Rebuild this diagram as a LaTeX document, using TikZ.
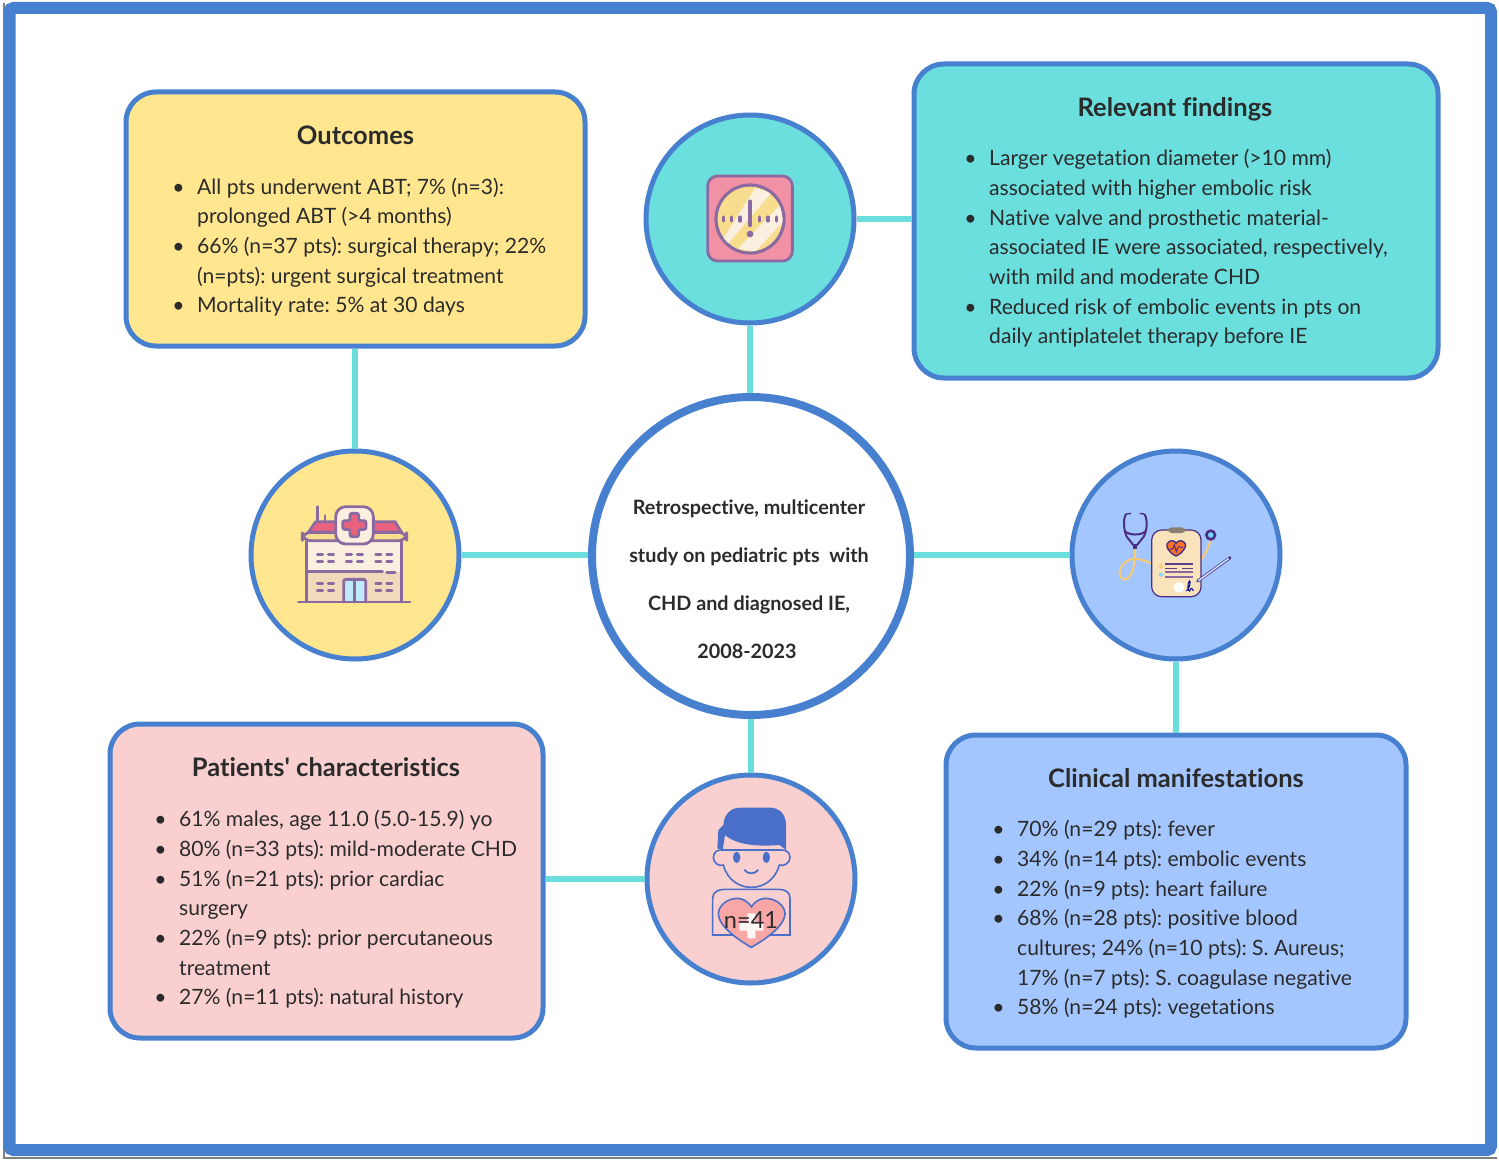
\documentclass[tikz,border=0pt]{standalone}
\usepackage{fontspec}
\setmainfont{Lato}[Ligatures={TeXOff,NoCommon}]
\usepackage{xcolor}
\usetikzlibrary{positioning}

\definecolor{framec}{HTML}{4680CF}
\definecolor{linkc}{HTML}{6ADDDD}
\definecolor{yellowc}{HTML}{FFE68F}
\definecolor{tealc}{HTML}{6BDEDE}
\definecolor{pinkc}{HTML}{F9CFCF}
\definecolor{bluec}{HTML}{A4C6FF}
\definecolor{inkc}{HTML}{2B2B2B}
\definecolor{plumc}{HTML}{8A6AA0}
\definecolor{rosec}{HTML}{E9627F}
\definecolor{creamc}{HTML}{FBF0DF}
\definecolor{sandc}{HTML}{F8DD8E}
\definecolor{tanc}{HTML}{F1D9BC}
\definecolor{boardc}{HTML}{F9E3BC}
\definecolor{heartc}{HTML}{F8A6A6}
\definecolor{boyc}{HTML}{4A6FC9}
\definecolor{darkc}{HTML}{4B2E83}

\tikzset{
    box/.style={draw=framec, line width=2.5pt, rounded corners=15pt},
    hub/.style={circle, draw=framec, line width=2.5pt, minimum size=104pt, inner sep=0pt},
    link/.style={draw=linkc, line width=3pt},
    title/.style={font=\fontsize{12.75}{15}\selectfont\bfseries, text=inkc},
    body/.style={font=\fontsize{10.55}{14.85}\selectfont, text=inkc, anchor=north west, inner sep=0pt},
    mid/.style={font=\fontsize{9.9}{12}\selectfont\bfseries, text=inkc, anchor=base},
    ic/.style={draw=plumc, line width=1.4pt, line cap=round, line join=round}
}
\newcommand{\bul}{\textbullet}
\newcommand{\twoside}[1]{\frenchspacing\begin{tabular}{@{}p{12.4pt}@{}l@{}}#1\end{tabular}}

\begin{document}
\begin{tikzpicture}[x=0.5pt, y=-0.5pt]
    \useasboundingbox (0, 0) rectangle (1499, 1161);
    \draw[draw=gray, line width=1pt] (3.5, 3) -- (3.5, 1157.5) -- (1497, 1157.5);
    \node[draw=framec, line width=6pt, rounded corners=2pt, minimum width=740.75pt, minimum height=571pt, inner sep=0pt] (frame) at (750.25, 579) {};

    % boxes
    \node[box, fill=yellowc, minimum width=229.5pt, minimum height=127pt] (outcomes) at (355.5, 219) {};
    \node[box, fill=tealc, minimum width=262pt, minimum height=157pt] (findings) at (1176, 221) {};
    \node[box, fill=pinkc, minimum width=216.5pt, minimum height=157pt] (patients) at (326.5, 881) {};
    \node[box, fill=bluec, minimum width=230pt, minimum height=156.5pt] (clinical) at (1176, 891.5) {};

    % circles
    \node[hub, fill=tealc] (alert) at (750, 219) {};
    \node[hub, fill=yellowc] (hospital) at (355, 555) {};
    \node[hub, fill=bluec] (record) at (1176, 555) {};
    \node[hub, fill=pinkc] (boy) at (751, 879) {};
    \node[circle, draw=framec, line width=4pt, fill=white, minimum size=159pt, inner sep=0pt] (study) at (751, 556) {};

    \draw[link] (outcomes.south -| hospital) -- (hospital);
    \draw[link] (hospital) -- (hospital -| study.west);
    \draw[link] (findings.west |- alert) -- (alert);
    \draw[link] (alert) -- (alert |- study.north);
    \draw[link] (study.east |- record) -- (record);
    \draw[link] (record) -- (clinical.north -| record);
    \draw[link] (study) -- (boy);
    \draw[link] (patients.east |- boy) -- (boy);

    % titles
    \node[title] (outcomest) at (355.5, 135) {Outcomes};
    \node[title] (findingst) at (1175, 109) {Relevant findings};
    \node[title] (patientst) at (326, 767) {Patients' characteristics};
    \node[title] (clinicalt) at (1176, 778) {Clinical manifestations};

    % lists
    \node[body] (outcomesb) at (172, 173) {\twoside{
        \bul & All pts underwent ABT; 7\% (n=3):\\
        & prolonged ABT (>4 months)\\
        \bul & 66\% (n=37 pts): surgical therapy; 22\%\\
        & (n=pts): urgent surgical treatment\\
        \bul & Mortality rate: 5\% at 30 days}};
    \node[body] (findingsb) at (964, 144.5) {\twoside{
        \bul & Larger vegetation diameter (>10 mm)\\
        & associated with higher embolic risk\\
        \bul & Native valve and prosthetic material-\\
        & associated IE were associated, respectively,\\
        & with mild and moderate CHD\\
        \bul & Reduced risk of embolic events in pts on\\
        & daily antiplatelet therapy before IE}};
    \node[body] (patientsb) at (154, 805.5) {\twoside{
        \bul & 61\% males, age 11.0 (5.0-15.9) yo\\
        \bul & 80\% (n=33 pts): mild-moderate CHD\\
        \bul & 51\% (n=21 pts): prior cardiac\\
        & surgery\\
        \bul & 22\% (n=9 pts): prior percutaneous\\
        & treatment\\
        \bul & 27\% (n=11 pts): natural history}};
    \node[body] (clinicalb) at (992, 815.5) {\twoside{
        \bul & 70\% (n=29 pts): fever\\
        \bul & 34\% (n=14 pts): embolic events\\
        \bul & 22\% (n=9 pts): heart failure\\
        \bul & 68\% (n=28 pts): positive blood\\
        & cultures; 24\% (n=10 pts): S. Aureus;\\
        & 17\% (n=7 pts): S. coagulase negative\\
        \bul & 58\% (n=24 pts): vegetations}};

    % centre text
    \node[mid] (mid1) at (749, 514.5) {Retrospective, multicenter};
    \node[mid] (mid2) at (749, 562.5) {study on pediatric pts\ \ with};
    \node[mid] (mid3) at (749, 610.5) {CHD and diagnosed IE,};
    \node[mid] (mid4) at (747, 658.5) {2008-2023};

    % clock icon
    \begin{scope}[shift={(640, 110)}, x=0.1667pt, y=-0.1667pt]
        \draw[ic, fill=rosec!70!white, rounded corners=5pt] (203, 198) rectangle (457, 453);
        \draw[ic, fill=sandc] (330, 327) circle[radius=102];
        \fill[creamc] (250, 385) -- (345, 235) -- (395, 247) -- (265, 400) -- cycle;
        \fill[creamc] (295, 415) -- (420, 285) -- (430, 335) -- (345, 425) -- cycle;
        \draw[ic, fill=none] (330, 327) circle[radius=102];
        \draw[plumc, line cap=round, line width=2.2pt] (330, 275) -- (330, 345);
        \fill[plumc] (330, 372) circle[radius=10];
        \foreach \x in {250, 275, 300, 358, 384, 410} {
            \draw[plumc, line cap=round, line width=1.6pt] (\x, 321) -- (\x, 333);
        }
    \end{scope}

    % hospital icon
    \begin{scope}[shift={(245, 445)}, x=0.1667pt, y=-0.1667pt]
        \draw[ic] (217, 185) -- (217, 240) (240, 212) -- (240, 240);
        \draw[ic, fill=rosec] (190, 262) -- (212, 230) -- (450, 230) -- (470, 262) -- cycle;
        \fill[creamc] (185, 285) rectangle (470, 380);
        \fill[tanc] (185, 380) rectangle (470, 471);
        \draw[ic] (185, 285) -- (185, 471) (470, 285) -- (470, 471);
        \draw[ic] (185, 380) -- (412, 380) (425, 382) -- (450, 382);
        \draw[ic, fill=sandc, rounded corners=4pt] (172, 262) rectangle (485, 287);
        \draw[ic, fill=creamc, rounded corners=5pt] (272, 185) rectangle (385, 297);
        \draw[ic, fill=rosec, rounded corners=1pt] (315, 205) -- (341, 205) -- (341, 227) -- (363, 227) -- (363, 253) -- (341, 253) -- (341, 275) -- (315, 275) -- (315, 253) -- (293, 253) -- (293, 227) -- (315, 227) -- cycle;
        \foreach \y in {328, 350} {
            \foreach \x in {225, 312, 400} {
                \draw[ic] (\x-8, \y) -- (\x+8, \y) (\x+25, \y) -- (\x+41, \y);
            }
        }
        \foreach \y in {415, 437} {
            \foreach \x in {225, 400} {
                \draw[ic] (\x-8, \y) -- (\x+8, \y) (\x+25, \y) -- (\x+41, \y);
            }
        }
        \draw[ic, fill=cyan!25!white, rounded corners=1pt] (296, 471) -- (296, 403) -- (362, 403) -- (362, 471);
        \draw[ic] (329, 403) -- (329, 471);
        \draw[ic] (160, 471) -- (495, 471);
    \end{scope}

    % record icon
    \begin{scope}[shift={(1065, 445)}, x=0.1667pt, y=-0.1667pt]
        \draw[sandc!80!orange, line width=1pt] (210, 312) .. controls (212, 370) and (195, 405) .. (178, 403) .. controls (150, 398) and (165, 345) .. (205, 342) .. controls (225, 340) and (245, 350) .. (260, 355);
        \draw[sandc!80!orange, line width=1pt] (437, 285) .. controls (430, 310) and (420, 330) .. (405, 347);
        \draw[darkc, line width=0.6pt, fill=boardc, rounded corners=5pt] (260, 255) rectangle (408, 455);
        \fill[gray!80!brown, rounded corners=2pt] (308, 247) rectangle (362, 264);
        \draw[darkc, line width=0.7pt, fill=orange!70!red!85!white] (333, 333) .. controls (310, 322) and (303, 305) .. (306, 297) .. controls (312, 284) and (328, 284) .. (333, 295) .. controls (338, 284) and (355, 284) .. (361, 297) .. controls (364, 305) and (356, 322) .. (333, 333) -- cycle;
        \draw[darkc, line width=0.5pt] (312, 312) -- (323, 312) -- (328, 300) -- (334, 320) -- (340, 305) -- (355, 308);
        \draw[darkc!80!gray, line width=0.8pt] (300, 357) -- (385, 357) (300, 370) -- (335, 370) (350, 370) -- (385, 370);
        \draw[plumc, line width=0.9pt] (300, 382) -- (385, 382) (300, 395) -- (385, 395);
        \draw[sandc!80!orange, line width=0.6pt] (288, 364) circle[radius=5];
        \draw[cyan!50!white, line width=0.6pt] (288, 389) circle[radius=5];
        \fill[white] (342, 427) circle[radius=16];
        \draw[blue!60!black, line width=0.5pt] (364, 438) .. controls (375, 430) and (378, 405) .. (373, 408) .. controls (366, 415) and (368, 440) .. (374, 438) .. controls (378, 425) and (382, 430) .. (385, 438);
        \draw[darkc, line width=1.5pt, line cap=round] (398, 408) -- (495, 338);
        \draw[bluec!60!white, line width=0.8pt, line cap=round] (400, 407) -- (490, 341);
        \draw[darkc, line width=1.3pt, fill=bluec!70!cyan] (437, 270) circle[radius=13];
        \draw[darkc, line width=1pt] (183, 207) .. controls (172, 225) and (178, 260) .. (185, 275) -- (205, 300) -- (216, 300) -- (236, 275) .. controls (245, 260) and (250, 225) .. (238, 207);
        \draw[darkc, line width=1pt] (178, 258) .. controls (195, 272) and (228, 272) .. (243, 258);
        \draw[darkc, line width=1.8pt] (210, 300) -- (210, 312);
        \draw[darkc, line width=0.7pt] (183, 207) -- (198, 205) (238, 207) -- (224, 205);
    \end{scope}

    % boy icon
    \begin{scope}[shift={(640, 770)}, x=0.1667pt, y=-0.1667pt]
        \draw[boyc, line width=0.8pt, fill=pinkc] (218, 495) -- (218, 385) .. controls (218, 365) and (235, 358) .. (255, 358) -- (415, 358) .. controls (435, 358) and (450, 365) .. (450, 385) -- (450, 495) -- cycle;
        \draw[boyc, line width=0.8pt, fill=pinkc] (220, 262) .. controls (220, 245) and (235, 238) .. (248, 240) -- (420, 240) .. controls (435, 238) and (450, 245) .. (450, 262) .. controls (450, 280) and (430, 290) .. (418, 285) .. controls (405, 330) and (370, 352) .. (334, 352) .. controls (298, 352) and (262, 330) .. (250, 285) .. controls (238, 290) and (220, 280) .. (220, 262) -- cycle;
        \fill[boyc] (248, 240) -- (232, 235) -- (235, 180) -- (250, 165) .. controls (252, 130) and (275, 113) .. (300, 113) -- (390, 113) .. controls (420, 113) and (438, 135) .. (438, 165) -- (438, 240) -- (418, 225) .. controls (350, 230) and (290, 225) .. (255, 195) -- cycle;
        \fill[boyc] (290, 262) ellipse[x radius=11, y radius=17];
        \fill[boyc] (379, 262) ellipse[x radius=11, y radius=17];
        \draw[boyc, line width=0.9pt, line cap=round] (314, 300) .. controls (322, 313) and (345, 313) .. (354, 300);
        \draw[boyc, line width=0.8pt, fill=heartc] (334, 532) .. controls (270, 495) and (235, 460) .. (235, 430) .. controls (235, 395) and (300, 360) .. (334, 410) .. controls (368, 360) and (435, 395) .. (435, 430) .. controls (435, 460) and (398, 495) .. (334, 532) -- cycle;
        \fill[white!80!pinkc] (322, 430) rectangle (346, 505) (298, 458) rectangle (370, 482);
        \node[font=\fontsize{11.8}{14}\selectfont, text=inkc, inner sep=0pt] (count) at (333, 451) {n=41};
    \end{scope}
\end{tikzpicture}
\end{document}
